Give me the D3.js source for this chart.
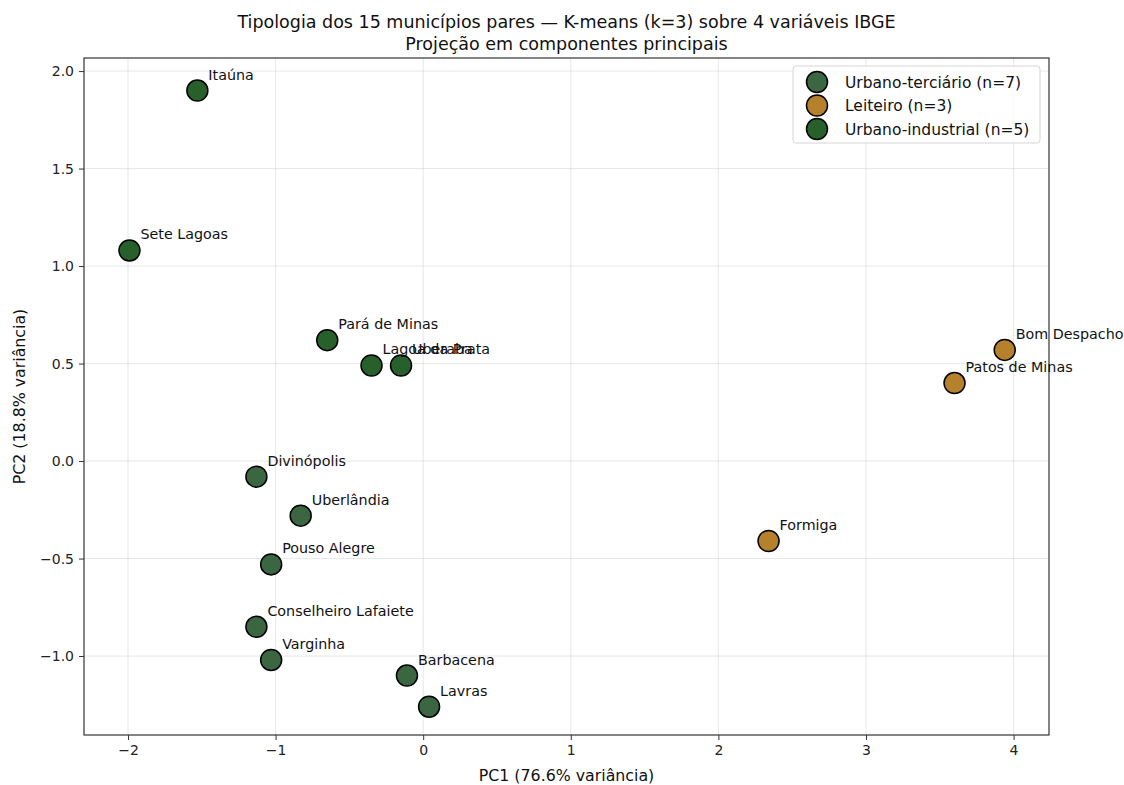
<!DOCTYPE html>
<html>
<head>
<meta charset="utf-8">
<script src="https://cdn.jsdelivr.net/npm/d3@7"></script>
<style>
  body { margin: 0; background: #fff; font-family: 'DejaVu Sans', sans-serif; }
</style>
</head>
<body>
<script>
const names = ['Itaúna', 'Sete Lagoas', 'Pará de Minas', 'Lagoa da Prata', 'Uberaba',
    'Divinópolis', 'Uberlândia', 'Pouso Alegre', 'Conselheiro Lafaiete', 'Varginha',
    'Barbacena', 'Lavras', 'Bom Despacho', 'Patos de Minas', 'Formiga']
const pc1 = [-1.53, -1.99, -0.65, -0.35, -0.15, -1.13, -0.83, -1.03, -1.13, -1.03, -0.11, 0.04, 3.94, 3.60, 2.34]
const pc2 = [1.90, 1.08, 0.62, 0.49, 0.49, -0.08, -0.28, -0.53, -0.85, -1.02, -1.10, -1.26, 0.57, 0.40, -0.41]
const cluster = [2, 2, 2, 2, 2, 0, 0, 0, 0, 0, 0, 0, 1, 1, 1]
const clusterNames = ['Urbano-terciário (n=7)', 'Leiteiro (n=3)', 'Urbano-industrial (n=5)']
const clusterColors = ['#3b6642', '#b5812c', '#27602a']
const xTicks = [-2, -1, 0, 1, 2, 3, 4]
const yTicks = [-1.0, -0.5, 0.0, 0.5, 1.0, 1.5, 2.0]

const width = 1124, height = 785
const margin = { left: 84, right: 75, top: 58, bottom: 50 }

const svg = d3.select('body').append('svg')
    .attr('width', width)
    .attr('height', height)

const x = d3.scaleLinear().domain([-2.298, 4.24]).range([margin.left, width - margin.right])
const y = d3.scaleLinear().domain([-1.405, 2.067]).range([height - margin.bottom, margin.top])

// grid
svg.append('g').selectAll('line.gx')
    .data(xTicks).enter().append('line')
    .attr('x1', d => x(d)).attr('x2', d => x(d))
    .attr('y1', margin.top).attr('y2', height - margin.bottom)
    .attr('stroke', '#b0b0b0').attr('stroke-opacity', 0.3)
svg.append('g').selectAll('line.gy')
    .data(yTicks).enter().append('line')
    .attr('y1', d => y(d)).attr('y2', d => y(d))
    .attr('x1', margin.left).attr('x2', width - margin.right)
    .attr('stroke', '#b0b0b0').attr('stroke-opacity', 0.3)

const fmtY = d => (d < 0 ? '\u2212' : '') + Math.abs(d).toFixed(1)
const fmtX = d => (d < 0 ? '\u2212' : '') + Math.abs(d)

const xAxis = svg.append('g')
    .attr('transform', `translate(0,${height - margin.bottom})`)
    .call(d3.axisBottom(x).tickValues(xTicks).tickFormat(fmtX).tickSize(5).tickPadding(5))
const yAxis = svg.append('g')
    .attr('transform', `translate(${margin.left},0)`)
    .call(d3.axisLeft(y).tickValues(yTicks).tickFormat(fmtY).tickSize(5).tickPadding(5))

;[xAxis, yAxis].forEach(a => {
    a.select('.domain').remove()
    a.selectAll('text').style('font-family', 'DejaVu Sans').style('font-size', '14px').attr('fill', '#222')
    a.selectAll('line').attr('stroke', '#333')
})

svg.append('rect')
    .attr('x', margin.left).attr('y', margin.top)
    .attr('width', width - margin.left - margin.right)
    .attr('height', height - margin.top - margin.bottom)
    .attr('fill', 'none').attr('stroke', '#333').attr('stroke-width', 1.2)

const data = names.map((n, i) => ({ name: n, x: pc1[i], y: pc2[i], c: cluster[i] }))

svg.append('g').selectAll('circle')
    .data(data).enter().append('circle')
    .attr('cx', d => x(d.x))
    .attr('cy', d => y(d.y))
    .attr('r', 10.5)
    .attr('fill', d => clusterColors[d.c])
    .attr('stroke', '#000')
    .attr('stroke-width', 1.5)

svg.append('g').selectAll('text')
    .data(data).enter().append('text')
    .attr('x', d => x(d.x) + 11)
    .attr('y', d => y(d.y) - 11)
    .text(d => d.name)
    .style('font-size', '14.3px')
    .attr('fill', '#111')

// titles
const cx = (margin.left + width - margin.right) / 2
svg.append('text').attr('x', cx).attr('y', 28).attr('text-anchor', 'middle')
    .style('font-size', '17.5px').attr('fill', '#111')
    .text('Tipologia dos 15 municípios pares — K-means (k=3) sobre 4 variáveis IBGE')
svg.append('text').attr('x', cx).attr('y', 50).attr('text-anchor', 'middle')
    .style('font-size', '17.5px').attr('fill', '#111')
    .text('Projeção em componentes principais')
svg.append('text').attr('x', cx).attr('y', 781).attr('text-anchor', 'middle')
    .style('font-size', '15.8px').attr('fill', '#111')
    .text('PC1 (76.6% variância)')
svg.append('text')
    .attr('transform', `translate(25,${(margin.top + height - margin.bottom) / 2}) rotate(-90)`)
    .attr('text-anchor', 'middle')
    .style('font-size', '15.8px').attr('fill', '#111')
    .text('PC2 (18.8% variância)')

// legend
const lg = svg.append('g').attr('transform', 'translate(793,66)')
lg.append('rect').attr('width', 247).attr('height', 77).attr('rx', 3)
    .attr('fill', '#fff').attr('fill-opacity', 0.8).attr('stroke', '#d5d5d5')
clusterNames.forEach((n, i) => {
    lg.append('circle').attr('cx', 24).attr('cy', 16 + i * 23.5).attr('r', 10.5)
        .attr('fill', clusterColors[i]).attr('stroke', '#000').attr('stroke-width', 1.5)
    lg.append('text').attr('x', 52).attr('y', 21.5 + i * 23.5)
        .style('font-size', '15.5px').attr('fill', '#111').text(n)
})
</script>
</body>
</html>
